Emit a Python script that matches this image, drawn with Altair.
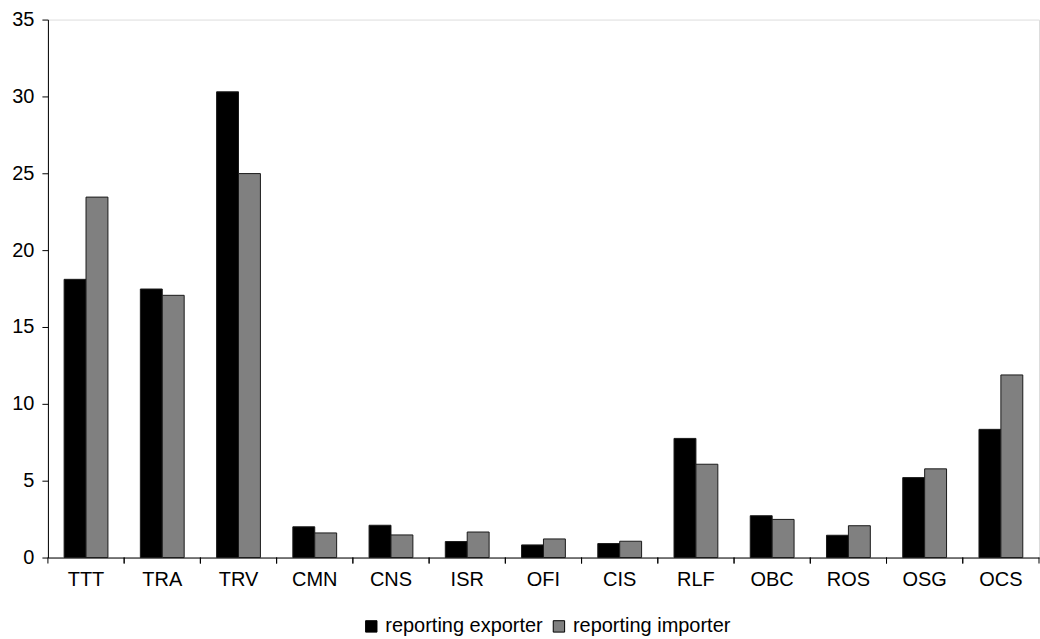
import altair as alt
import pandas as pd

categories = ["TTT", "TRA", "TRV", "CMN", "CNS", "ISR", "OFI", "CIS", "RLF", "OBC", "ROS", "OSG", "OCS"]
exporter = [18.1, 17.47, 30.3, 2.0, 2.1, 1.04, 0.82, 0.91, 7.75, 2.72, 1.45, 5.2, 8.34]
importer = [23.45, 17.06, 24.98, 1.6, 1.47, 1.66, 1.21, 1.06, 6.07, 2.48, 2.07, 5.77, 11.88]
series_names = ["reporting exporter", "reporting importer"]

rows = []
for c, e, i in zip(categories, exporter, importer):
    rows.append({"cat": c, "series": series_names[0], "value": e})
    rows.append({"cat": c, "series": series_names[1], "value": i})
df = pd.DataFrame(rows)
cat_df = pd.DataFrame({"cat": categories})

W, H = 993, 539
FONT = "Liberation Sans"
FS = 20

xscale = alt.Scale(domain=categories, paddingInner=0, paddingOuter=0)

bars = alt.Chart(df).mark_bar(stroke="#1a1a1a", strokeWidth=1).encode(
    x=alt.X("cat:N", scale=xscale, sort=categories,
            axis=alt.Axis(title=None, ticks=False, domain=True, domainColor="#000",
                          labelAngle=0, labelFontSize=FS, labelFont=FONT, labelColor="#000",
                          labelPadding=12)),
    xOffset=alt.XOffset("series:N", sort=series_names,
                        scale=alt.Scale(paddingInner=0, paddingOuter=0.74)),
    y=alt.Y("value:Q", scale=alt.Scale(domain=[0, 35], nice=False),
            axis=alt.Axis(title=None, values=[0, 5, 10, 15, 20, 25, 30, 35], grid=False,
                          tickSize=6, domainColor="#000", tickColor="#000",
                          labelFontSize=FS, labelFont=FONT, labelColor="#000", labelPadding=8)),
    color=alt.Color("series:N", sort=series_names,
                    scale=alt.Scale(domain=series_names, range=["#000000", "#808080"]),
                    legend=alt.Legend(title=None, orient="none", direction="horizontal",
                                      legendX=314, legendY=598,
                                      symbolType="square", symbolSize=130, symbolStrokeColor="#000",
                                      symbolStrokeWidth=1, labelFontSize=FS, labelFont=FONT,
                                      labelColor="#000", columnPadding=6, symbolOffset=0,
                                      labelOffset=4)),
)

ticks0 = alt.Chart(cat_df).mark_rule(color="#000", strokeWidth=1).encode(
    x=alt.X("cat:N", scale=xscale, sort=categories, bandPosition=0),
    y=alt.value(H), y2=alt.value(H + 6),
)
ticks1 = alt.Chart(cat_df).mark_rule(color="#000", strokeWidth=1).encode(
    x=alt.X("cat:N", scale=xscale, sort=categories, bandPosition=1),
    y=alt.value(H), y2=alt.value(H + 6),
)

chart = alt.layer(bars, ticks0, ticks1).properties(
    width=W, height=H,
    padding={"left": 11, "top": 9, "right": 0, "bottom": 0},
).configure_view(stroke=None).configure(background="white")

chart.save("out.html", embed_options={"renderer": "svg", "actions": False})
